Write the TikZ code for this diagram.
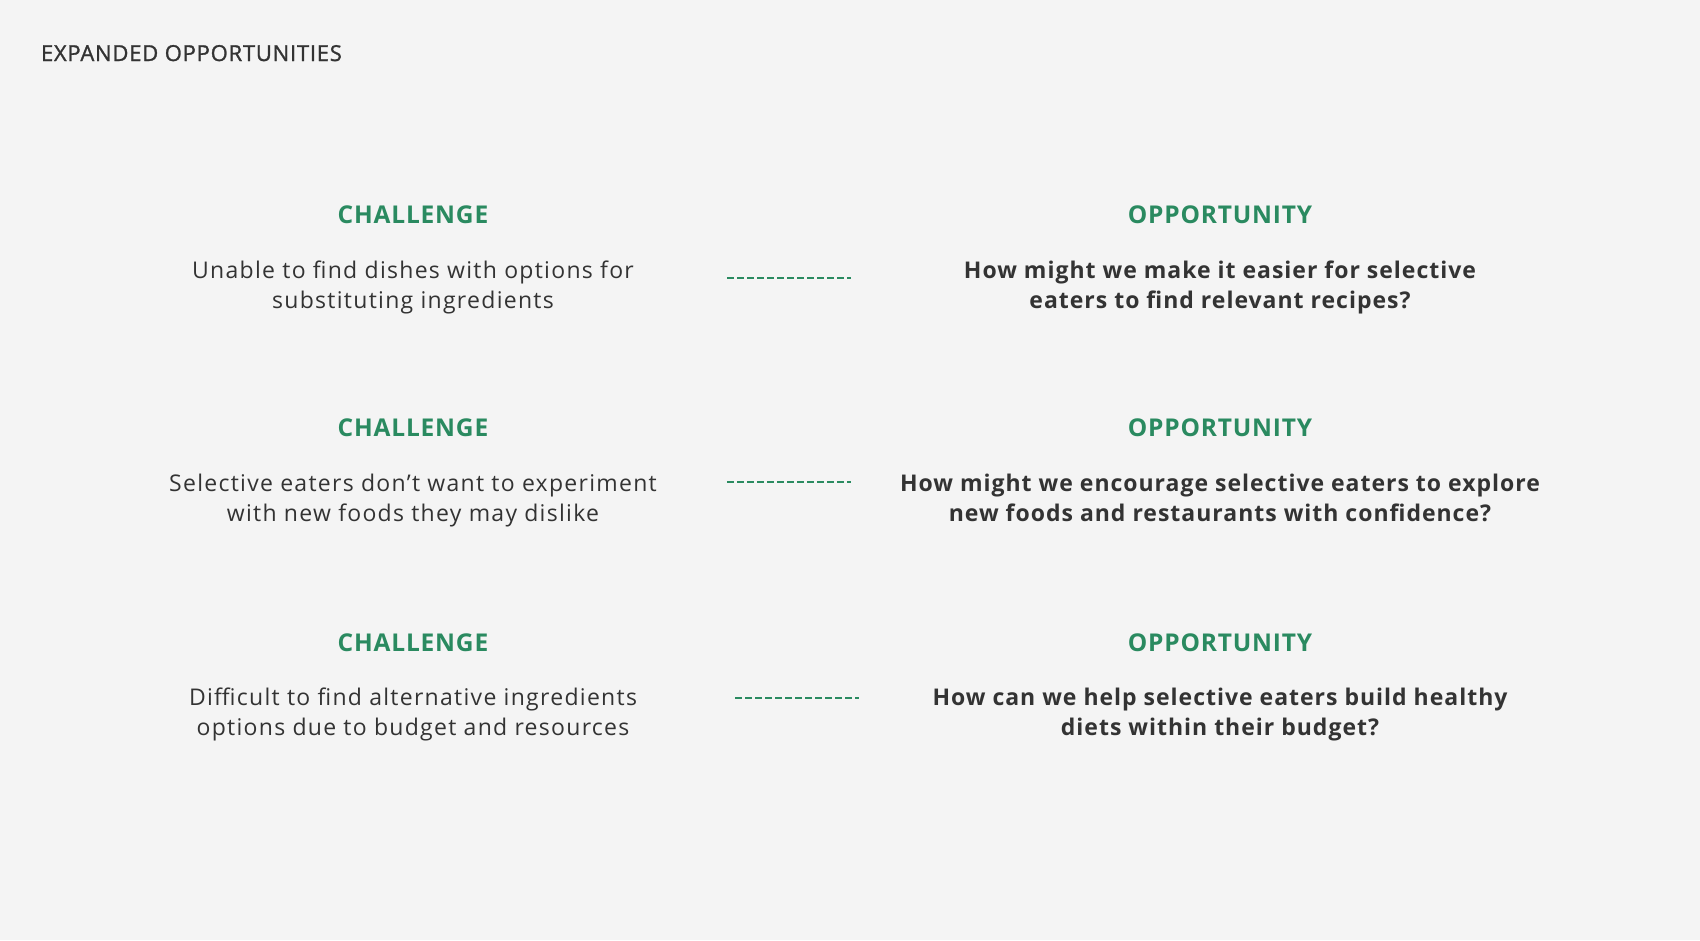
\documentclass[tikz,border=0pt]{standalone}
\usepackage{fontspec}
\setmainfont{Open Sans}
\newfontfamily\bodyfont[LetterSpace=5.6]{Open Sans}
\newfontfamily\oppfont[LetterSpace=4.3]{Open Sans}
\newfontfamily\headfont[LetterSpace=3.3]{Open Sans}
\newfontfamily\titlefont[LetterSpace=3.5,FakeBold=1.2]{Open Sans}
\definecolor{bg}{HTML}{F4F4F4}
\definecolor{grn}{HTML}{2A8A60}
\definecolor{ink}{HTML}{333333}
\begin{document}
\begin{tikzpicture}[x=1pt,y=-1pt,
  every node/.style={inner sep=0pt,outer sep=0pt},
  heading/.style={text=grn,font=\headfont\fontsize{24.5}{28}\selectfont\bfseries,anchor=base},
  chtext/.style={text=ink,align=center,font=\bodyfont\fontsize{23}{30}\selectfont,anchor=base},
  optext/.style={text=ink,align=center,font=\oppfont\fontsize{23}{30}\selectfont\bfseries,anchor=base},
  link/.style={draw=grn,line width=2pt,dash pattern=on 7pt off 3pt}]
\fill[bg] (0,0) rectangle (1700,940);
\useasboundingbox (0,0) rectangle (1700,940);
\node[text=ink,font=\titlefont\fontsize{22}{24}\selectfont,anchor=base west] (title) at (41,61) {EXPANDED OPPORTUNITIES};

% row 1 (text nodes anchored at the baseline of their last line)
\node[heading] (ch1) at (413,223) {CHALLENGE};
\node[chtext] (c1) at (413,308) {Unable to find dishes with options for\\substituting ingredients};
\node[heading] (op1) at (1220,223) {OPPORTUNITY};
\node[optext] (o1) at (1220,308) {How might we make it easier for selective\\eaters to find relevant recipes?};
\coordinate (l1a) at (727,278);
\coordinate (l1b) at (851,278);
\draw[link] (l1a) -- (l1b);

% row 2
\node[heading] (ch2) at (413,436.5) {CHALLENGE};
\node[chtext] (c2) at (413,521.5) {Selective eaters don’t want to experiment\\with new foods they may dislike};
\node[heading] (op2) at (1220,436.5) {OPPORTUNITY};
\node[optext] (o2) at (1220,521.5) {How might we encourage selective eaters to explore\\new foods and restaurants with confidence?};
\coordinate (l2a) at (727,482);
\coordinate (l2b) at (851,482);
\draw[link] (l2a) -- (l2b);

% row 3
\node[heading] (ch3) at (413,651) {CHALLENGE};
\node[chtext] (c3) at (413,735) {Difficult to find alternative ingredients\\options due to budget and resources};
\node[heading] (op3) at (1220,651) {OPPORTUNITY};
\node[optext] (o3) at (1220,735) {How can we help selective eaters build healthy\\diets within their budget?};
\coordinate (l3a) at (735,698);
\coordinate (l3b) at (859,698);
\draw[link] (l3a) -- (l3b);
\end{tikzpicture}
\end{document}
